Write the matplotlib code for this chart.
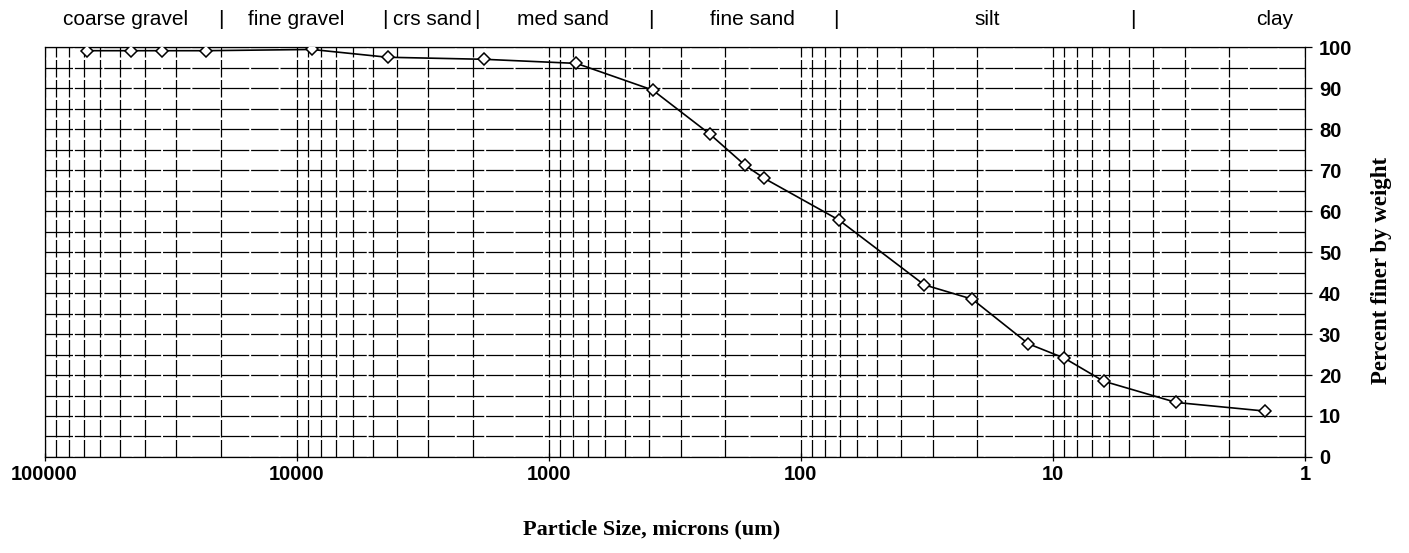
import numpy as np
import matplotlib.pyplot as plt
from matplotlib.ticker import FixedLocator, LogLocator, NullFormatter, FuncFormatter

# sieve / hydrometer results
size_um = [67800, 45400, 34200, 22900, 8700, 4360, 1800, 776, 387, 230, 166, 140,
           70.6, 32.4, 20.9, 12.5, 9.0, 6.3, 3.24, 1.44]
pct_finer = [99.1, 99.1, 99.1, 99.1, 99.4, 97.5, 97.0, 96.0, 89.5, 78.8, 71.1, 68.0,
             57.8, 42.0, 38.5, 27.6, 24.1, 18.5, 13.3, 11.2]

# soil class names, where their captions sit, and the dividers between them (microns)
class_names = ["coarse gravel", "fine gravel", "crs sand", "med sand", "fine sand", "silt", "clay"]
class_label_at = [47500, 10060, 2900, 880, 156, 18.3, 1.32]
class_bounds = [20000, 4470, 1920, 393, 72.5, 4.8]

fig = plt.figure(figsize=(14.09, 5.53), dpi=100)
ax = fig.add_axes([0.0316, 0.1736, 0.8946, 0.7414])

ax.set_xscale("log")
ax.set_xlim(100000, 1)
ax.set_ylim(0, 100)

# grid: every log subdivision, every 5 %
ax.xaxis.set_major_locator(LogLocator(base=10, numticks=10))
ax.xaxis.set_minor_locator(LogLocator(base=10, subs=np.arange(2, 10), numticks=20))
ax.xaxis.set_minor_formatter(NullFormatter())
ax.xaxis.set_major_formatter(FuncFormatter(lambda v, p: f"{int(round(v))}"))
ax.yaxis.set_major_locator(FixedLocator(np.arange(0, 101, 10)))
ax.yaxis.set_minor_locator(FixedLocator(np.arange(5, 100, 10)))
ax.grid(True, which="both", axis="x", color="black", lw=0.9, ls=(0, (14, 2)))
ax.grid(True, which="both", axis="y", color="black", lw=0.9, ls=(0, (22, 1.5)))
ax.set_axisbelow(True)

ax.yaxis.tick_right()
ax.tick_params(axis="y", which="major", direction="out", length=5, width=0.9,
               labelsize=14.5, pad=5)
ax.tick_params(axis="y", which="minor", length=0)
ax.tick_params(axis="x", which="major", direction="inout", length=6, width=0.9,
               labelsize=14.5, pad=3)
ax.tick_params(axis="x", which="minor", length=0)
for lab in ax.get_xticklabels() + ax.get_yticklabels():
    lab.set_fontweight("bold")
    lab.set_family("Liberation Sans")

for s in ["top", "right", "left", "bottom"]:
    ax.spines[s].set_linewidth(0.9)
    ax.spines[s].set_color("black")

ax.plot(size_um, pct_finer, color="black", lw=1.2, marker="D", markersize=6,
        markerfacecolor="white", markeredgecolor="black", markeredgewidth=1.1, zorder=5)

# class band above the plot
band = ax.get_xaxis_transform()
for name, x in zip(class_names, class_label_at):
    ax.text(x, 1.068, name, transform=band, ha="center", va="center",
            fontsize=15, family="Liberation Sans")
for b in class_bounds:
    ax.text(b, 1.068, "|", transform=band, ha="center", va="center",
            fontsize=15, family="Liberation Sans")

ax.set_xlabel("Particle Size, microns (um)", fontsize=16, fontweight="bold",
              family="Liberation Serif")
ax.xaxis.set_label_coords(0.482, -0.153)
ax.yaxis.set_label_position("right")
ax.set_ylabel("Percent finer by weight", fontsize=16.5, fontweight="bold",
              family="Liberation Serif")
ax.yaxis.set_label_coords(1.052, 0.454)

fig.savefig("out.png", dpi=100, facecolor="white")
